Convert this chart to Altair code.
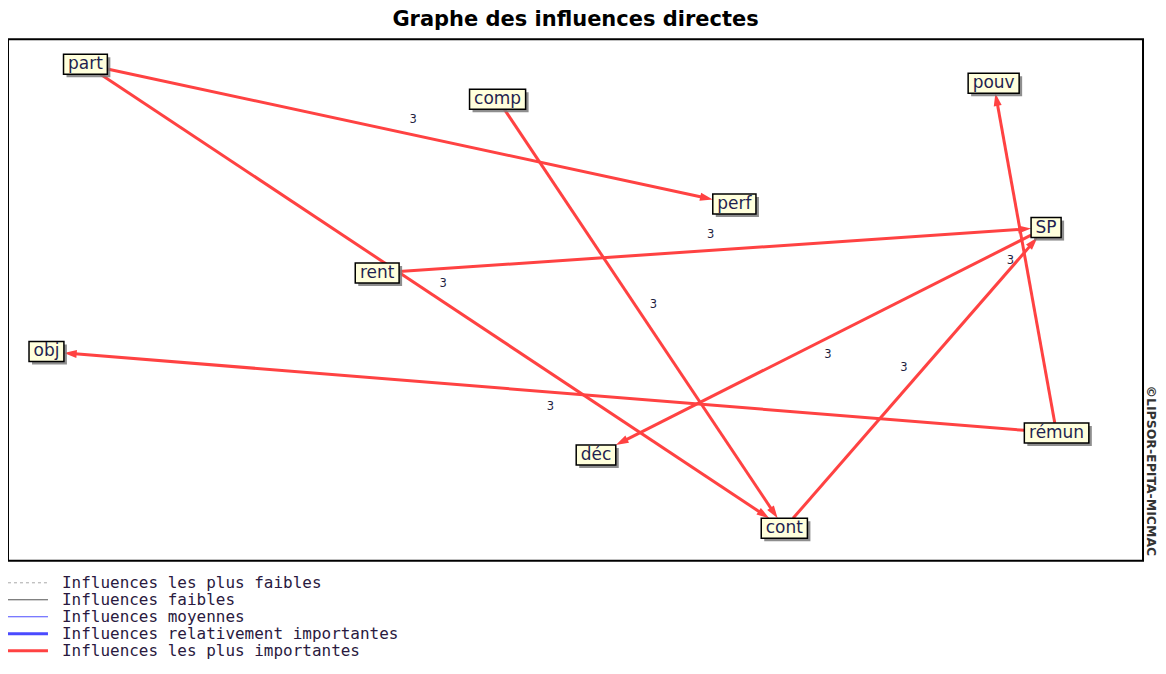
import math
import pandas as pd
import altair as alt

# ---------------- data ----------------
node_names = ["part", "comp", "pouv", "perf", "SP", "rent", "obj", "rémun", "déc", "cont"]
node_x = [77.5, 490, 986.5, 727, 1039, 369.5, 38.5, 1049.5, 588.5, 777]
node_y = [25, 60, 44, 165, 188.5, 234, 312.5, 394, 416, 489.5]

edge_source = ["part", "part", "comp", "rent", "SP", "cont", "rémun", "rémun"]
edge_target = ["perf", "cont", "cont", "SP", "déc", "SP", "obj", "pouv"]
edge_weight = [3, 3, 3, 3, 3, 3, 3, 3]

legend_labels = [
    "Influences les plus faibles",
    "Influences faibles",
    "Influences moyennes",
    "Influences relativement importantes",
    "Influences les plus importantes",
]

title_text = "Graphe des influences directes"
copyright_text = "©LIPSOR-EPITA-MICMAC"

# ---------------- layout helpers ----------------
W, H = 1136, 522
FONT = "DejaVu Sans"
NODE_FS = 17
CHAR_W = {"p": .635, "a": .613, "r": .411, "t": .392, "c": .550, "o": .612, "m": .974,
          "u": .634, "v": .592, "e": .615, "f": .352, "S": .635, "P": .603, "n": .634,
          "b": .635, "j": .278, "é": .615, "d": .635}


def half_w(name):
    return (sum(CHAR_W.get(ch, .6) for ch in name) * NODE_FS + 9) / 2


HH = 10
nodes = pd.DataFrame({"name": node_names, "x": node_x, "y": node_y})
nodes["hw"] = nodes["name"].map(half_w)
nodes["x1"] = nodes["x"] - nodes["hw"]
nodes["x2"] = nodes["x"] + nodes["hw"]
nodes["y1"] = nodes["y"] - HH
nodes["y2"] = nodes["y"] + HH
pos = {r.name: (r.x, r.y, r.hw) for r in nodes.itertuples()}

rows = []
for s, t, w in zip(edge_source, edge_target, edge_weight):
    sx, sy, shw = pos[s]
    tx, ty, thw = pos[t]
    dx, dy = tx - sx, ty - sy
    L = math.hypot(dx, dy)
    ux, uy = dx / L, dy / L
    ts = min(shw / abs(dx) if dx else 1e9, HH / abs(dy) if dy else 1e9)
    tt = min(thw / abs(dx) if dx else 1e9, HH / abs(dy) if dy else 1e9)
    bx, by = sx + dx * ts, sy + dy * ts
    ex, ey = tx - dx * tt, ty - dy * tt
    ax, ay = ex - 8 * ux, ey - 8 * uy
    ang = math.degrees(math.atan2(ux, -uy)) % 360
    mx, my = (sx + tx) / 2, (sy + ty) / 2
    lx, ly = mx + 15 * uy, my - 15 * ux
    rows.append(dict(bx=bx, by=by, ex=ax, ey=ay, ax=ax, ay=ay, angle=ang,
                     lx=lx, ly=ly, w=str(w)))
edges = pd.DataFrame(rows)

xs = alt.Scale(domain=[0, W], nice=False, zero=False)
ys = alt.Scale(domain=[0, H], nice=False, zero=False, reverse=True)

RED = "#ff4242"
BLUE = "#4a4aff"

edge_lines = alt.Chart(edges).mark_rule(color=RED, strokeWidth=3).encode(
    x=alt.X("bx:Q", scale=xs, axis=None), y=alt.Y("by:Q", scale=ys, axis=None),
    x2="ex:Q", y2="ey:Q")

arrows = alt.Chart(edges).mark_point(
    shape="M0,-1L0.5,0.6L-0.5,0.6Z", filled=True, color=RED, opacity=1,
    size=256, strokeWidth=0).encode(
    x=alt.X("ax:Q", scale=xs, axis=None), y=alt.Y("ay:Q", scale=ys, axis=None),
    angle=alt.Angle("angle:Q", scale=None))

edge_labels = alt.Chart(edges).mark_text(
    font=FONT, fontSize=11.5, color="#1f1f3f", baseline="middle").encode(
    x=alt.X("lx:Q", scale=xs, axis=None), y=alt.Y("ly:Q", scale=ys, axis=None), text="w:N")

shadows = alt.Chart(nodes).mark_rect(
    color="#7a7a7a", opacity=0.85, xOffset=3, x2Offset=3, yOffset=3, y2Offset=3).encode(
    x=alt.X("x1:Q", scale=xs, axis=None), x2="x2:Q",
    y=alt.Y("y1:Q", scale=ys, axis=None), y2="y2:Q")

boxes = alt.Chart(nodes).mark_rect(fill="#ffffdc", stroke="#000", strokeWidth=1.5).encode(
    x=alt.X("x1:Q", scale=xs, axis=None), x2="x2:Q",
    y=alt.Y("y1:Q", scale=ys, axis=None), y2="y2:Q")

node_text = alt.Chart(nodes).mark_text(
    font=FONT, fontSize=NODE_FS, color="#1f1f50", baseline="middle").encode(
    x=alt.X("x:Q", scale=xs, axis=None), y=alt.Y("y:Q", scale=ys, axis=None), text="name:N")

copyright_layer = alt.Chart(pd.DataFrame({"t": [copyright_text]})).mark_text(
    angle=90, font=FONT, fontSize=12.5, fontWeight="bold", color="#333333",
    baseline="middle").encode(x=alt.value(W + 8), y=alt.value(432), text="t:N")

main = alt.layer(edge_lines, arrows, shadows, boxes, node_text, edge_labels,
                 copyright_layer).properties(
    width=W, height=H,
    title=alt.TitleParams(title_text, font=FONT, fontSize=21, fontWeight="bold",
                          color="#000000", anchor="middle", offset=9),
    view=alt.ViewBackground(stroke="#000000", strokeWidth=2))

# ---------------- legend ----------------
leg = pd.DataFrame({"label": legend_labels, "i": list(range(len(legend_labels)))})
ly_scale = alt.Scale(domain=[0, len(legend_labels) - 1], range=[11, 79], nice=False, zero=False)
leg_color = alt.Color("label:N", legend=None, scale=alt.Scale(
    domain=legend_labels, range=["#a8a8a8", "#505050", BLUE, BLUE, RED]))


def leg_rule(idx, width, dash):
    return alt.Chart(leg).transform_filter(
        alt.FieldOneOfPredicate(field="i", oneOf=idx)
    ).mark_rule(strokeWidth=width, strokeDash=dash).encode(
        x=alt.value(0), x2=alt.value(40),
        y=alt.Y("i:Q", scale=ly_scale, axis=None),
        color=leg_color)


leg_text = alt.Chart(leg).mark_text(
    font="DejaVu Sans Mono", fontSize=16, color="#2a1a40", align="left",
    baseline="middle").encode(
    x=alt.value(54), y=alt.Y("i:Q", scale=ly_scale, axis=None), text="label:N")

legend = alt.layer(leg_rule([0], 1, [3, 3]), leg_rule([1, 2], 1, [1, 0]),
                   leg_rule([3, 4], 3, [1, 0]), leg_text).properties(
    width=420, height=84, view=alt.ViewBackground(strokeOpacity=0))

chart = alt.vconcat(main, legend, spacing=10).properties(
    padding={"left": -2, "top": 0, "right": 0, "bottom": 0},
    background="#ffffff")

chart.save("out.html", embed_options={"renderer": "svg", "actions": False})
